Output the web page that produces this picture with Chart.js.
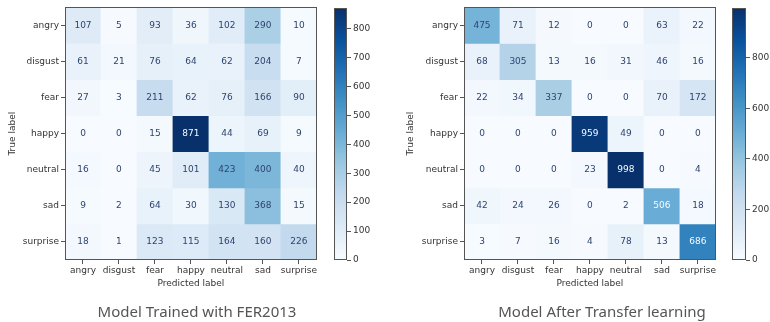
<!DOCTYPE html>
<html>
<head>
<meta charset="utf-8">
<script src="https://cdn.jsdelivr.net/npm/chart.js@4/dist/chart.umd.min.js"></script>
<style>
  html, body { margin: 0; padding: 0; background: #fff; overflow: hidden; }
  body { width: 770px; height: 322px; position: relative; }
  canvas { position: absolute; top: 0; }
  .caption {
    position: absolute; top: 300px; width: 300px; height: 22px; line-height: 22px;
    text-align: center; font-family: "Noto Sans", "Open Sans", sans-serif;
    font-size: 15px; color: #555; white-space: nowrap;
  }
</style>
</head>
<body>
<canvas id="cmA" width="318" height="322" style="left:0px"></canvas>
<canvas id="cbA" width="70" height="322" style="left:320px"></canvas>
<canvas id="cmB" width="319" height="322" style="left:398px"></canvas>
<canvas id="cbB" width="52" height="322" style="left:718px"></canvas>
<div class="caption" style="left:47px">Model Trained with FER2013</div>
<div class="caption" style="left:452px">Model After Transfer learning</div>

<script>
// Emotion classes (rows = true label, columns = predicted label)
const emotions = ['angry', 'disgust', 'fear', 'happy', 'neutral', 'sad', 'surprise'];

// Confusion matrix: model trained with FER2013
const ferAngry    = [107, 5, 93, 36, 102, 290, 10];
const ferDisgust  = [61, 21, 76, 64, 62, 204, 7];
const ferFear     = [27, 3, 211, 62, 76, 166, 90];
const ferHappy    = [0, 0, 15, 871, 44, 69, 9];
const ferNeutral  = [16, 0, 45, 101, 423, 400, 40];
const ferSad      = [9, 2, 64, 30, 130, 368, 15];
const ferSurprise = [18, 1, 123, 115, 164, 160, 226];

// Confusion matrix: model after transfer learning
const tlAngry    = [475, 71, 12, 0, 0, 63, 22];
const tlDisgust  = [68, 305, 13, 16, 31, 46, 16];
const tlFear     = [22, 34, 337, 0, 0, 70, 172];
const tlHappy    = [0, 0, 0, 959, 49, 0, 0];
const tlNeutral  = [0, 0, 0, 23, 998, 0, 4];
const tlSad      = [42, 24, 26, 0, 2, 506, 18];
const tlSurprise = [3, 7, 16, 4, 78, 13, 686];

// Colorbar tick labels for each panel
const ferColorbarTicks = [0, 100, 200, 300, 400, 500, 600, 700, 800];
const tlColorbarTicks  = [0, 200, 400, 600, 800];

const ferRows = [ferAngry, ferDisgust, ferFear, ferHappy, ferNeutral, ferSad, ferSurprise];
const tlRows  = [tlAngry, tlDisgust, tlFear, tlHappy, tlNeutral, tlSad, tlSurprise];

// Matplotlib "Blues" colormap anchors
const BLUES = ['#f7fbff', '#deebf7', '#c6dbef', '#9ecae1', '#6baed6', '#4292c6', '#2171b5', '#08519c', '#08306b'];

function hexToRgb(h) {
  const n = parseInt(h.slice(1), 16);
  return [(n >> 16) & 255, (n >> 8) & 255, n & 255];
}
function blues(t) {
  t = Math.max(0, Math.min(1, t));
  const s = t * (BLUES.length - 1);
  const i = Math.min(BLUES.length - 2, Math.floor(s));
  const f = s - i;
  const a = hexToRgb(BLUES[i]), b = hexToRgb(BLUES[i + 1]);
  const c = a.map((v, k) => Math.round(v + (b[k] - v) * f));
  return `rgb(${c[0]},${c[1]},${c[2]})`;
}

const TICK_FONT = { family: '"DejaVu Sans", sans-serif', size: 9 };
const TEXT_COLOR = '#333';
const AXIS_COLOR = '#555';

// Frame around the chart area
const frame = {
  id: 'frame',
  afterDraw(chart) {
    const { ctx, chartArea: a } = chart;
    ctx.save();
    ctx.strokeStyle = AXIS_COLOR;
    ctx.lineWidth = 1;
    ctx.strokeRect(Math.round(a.left) + 0.5, Math.round(a.top) + 0.5,
                   Math.round(a.right - a.left) - 1, Math.round(a.bottom - a.top) - 1);
    ctx.restore();
  }
};

// Count printed in the middle of every cell
const cellText = {
  id: 'cellText',
  afterDatasetsDraw(chart) {
    const { ctx } = chart;
    const vmax = chart.options.plugins.cellText.vmax;
    ctx.save();
    ctx.font = '9px "DejaVu Sans", sans-serif';
    ctx.textAlign = 'center';
    ctx.textBaseline = 'middle';
    chart.data.datasets.forEach((ds, di) => {
      const meta = chart.getDatasetMeta(di);
      meta.data.forEach((el, i) => {
        const v = ds.counts[i];
        ctx.fillStyle = v > vmax / 2 ? '#f7fbff' : '#2f4470';
        ctx.fillText(String(v), el.x, (el.y + el.base) / 2);
      });
    });
    ctx.restore();
  }
};

function matrixChart(id, rows, yAxisWidth) {
  const vmax = Math.max(...rows.flat());
  const datasets = rows.map((row, r) => ({
    label: emotions[r],
    counts: row,
    data: row.map(() => [r - 0.5, r + 0.5]),
    backgroundColor: row.map(v => blues(v / vmax)),
    borderWidth: 0,
    borderSkipped: false,
    grouped: false,
    barPercentage: 1,
    categoryPercentage: 1
  }));
  return new Chart(document.getElementById(id), {
    type: 'bar',
    data: { labels: emotions, datasets },
    plugins: [cellText, frame],
    options: {
      responsive: false,
      animation: false,
      devicePixelRatio: 1,
      layout: { padding: { top: 7, left: 0, right: 0, bottom: 30 } },
      plugins: {
        legend: { display: false },
        tooltip: { enabled: false },
        cellText: { vmax }
      },
      scales: {
        x: {
          type: 'category',
          grid: { offset: false, drawOnChartArea: false, tickLength: 4, color: AXIS_COLOR },
          border: { display: false },
          ticks: { color: TEXT_COLOR, font: TICK_FONT, padding: 1, maxRotation: 0, autoSkip: false },
          title: { display: true, text: 'Predicted label', color: TEXT_COLOR, font: TICK_FONT, padding: { top: 0, bottom: 3 } },
          afterFit(s) { s.height = 32; }
        },
        y: {
          type: 'linear',
          reverse: true,
          min: -0.5,
          max: 6.5,
          afterBuildTicks(s) { s.ticks = emotions.map((_, i) => ({ value: i })); },
          grid: { drawOnChartArea: false, tickLength: 4, color: AXIS_COLOR },
          border: { display: false },
          ticks: { color: TEXT_COLOR, font: TICK_FONT, padding: 2, callback: v => emotions[v] },
          title: { display: true, text: 'True label', color: TEXT_COLOR, font: TICK_FONT, padding: { top: 7, bottom: 0 } },
          afterFit(s) { s.width = yAxisWidth; }
        }
      }
    }
  });
}

function colorbarChart(id, rows, tickValues, padLeft, axisWidth) {
  const vmax = Math.max(...rows.flat());
  return new Chart(document.getElementById(id), {
    type: 'bar',
    data: {
      labels: [''],
      datasets: [{
        data: [[0, vmax]],
        borderWidth: 0,
        borderSkipped: false,
        barPercentage: 1,
        categoryPercentage: 1,
        backgroundColor(ctx) {
          const chart = ctx.chart;
          if (!chart.chartArea) return BLUES[4];
          const y = chart.scales.y;
          const g = chart.ctx.createLinearGradient(0, y.getPixelForValue(0), 0, y.getPixelForValue(vmax));
          BLUES.forEach((c, i) => g.addColorStop(i / (BLUES.length - 1), c));
          return g;
        }
      }]
    },
    plugins: [frame],
    options: {
      responsive: false,
      animation: false,
      devicePixelRatio: 1,
      layout: { padding: { top: 8, left: padLeft, right: 0, bottom: 62 } },
      plugins: { legend: { display: false }, tooltip: { enabled: false } },
      scales: {
        x: { display: false },
        y: {
          position: 'right',
          min: 0,
          max: vmax,
          afterBuildTicks(s) { s.ticks = tickValues.map(v => ({ value: v })); },
          grid: { drawOnChartArea: false, tickLength: 4, color: AXIS_COLOR },
          border: { display: false },
          ticks: { color: TEXT_COLOR, font: TICK_FONT, padding: 2 },
          afterFit(s) { s.width = axisWidth; }
        }
      }
    }
  });
}

matrixChart('cmA', ferRows, 65);
colorbarChart('cbA', ferRows, ferColorbarTicks, 14, 43);
matrixChart('cmB', tlRows, 66);
colorbarChart('cbB', tlRows, tlColorbarTicks, 14, 24);
</script>
</body>
</html>
